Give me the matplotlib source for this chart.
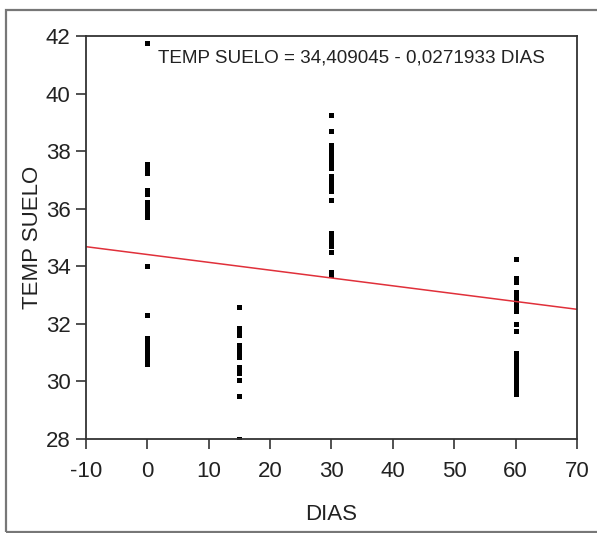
import numpy as np
import matplotlib.pyplot as plt
from matplotlib.patches import Rectangle

plt.rcParams['font.family'] = ['Liberation Sans', 'DejaVu Sans']

# data (DIAS, TEMP SUELO)
temp_d0 = [41.75, 37.55, 37.45, 37.35, 37.25, 36.65, 36.5, 36.25, 36.1, 35.95, 35.8, 35.7,
           34.0, 32.3, 31.5, 31.35, 31.2, 31.05, 30.9, 30.75, 30.6]
temp_d15 = [32.6, 31.85, 31.75, 31.6, 31.25, 31.1, 30.95, 30.85, 30.5, 30.4, 30.3, 30.05, 29.5, 28.0]
temp_d30 = [39.25, 38.7, 38.2, 38.1, 38.0, 37.9, 37.8, 37.7, 37.6, 37.5, 37.4, 37.15, 37.05,
            36.95, 36.85, 36.75, 36.6, 36.3, 35.15, 35.0, 34.85, 34.7, 34.5, 33.8, 33.7]
temp_d60 = [34.25, 33.6, 33.45, 33.1, 33.0, 32.9, 32.8, 32.7, 32.6, 32.45, 32.0, 31.75,
            31.0, 30.9, 30.8, 30.7, 30.6, 30.5, 30.4, 30.3, 30.2, 30.1, 30.0, 29.9, 29.8, 29.7, 29.6, 29.55]
dias = [0] * len(temp_d0) + [15] * len(temp_d15) + [30] * len(temp_d30) + [60] * len(temp_d60)
temp = temp_d0 + temp_d15 + temp_d30 + temp_d60

b0, b1 = 34.409045, -0.0271933
xticks = [-10, 0, 10, 20, 30, 40, 50, 60, 70]
yticks = [28, 30, 32, 34, 36, 38, 40, 42]

fig = plt.figure(figsize=(5.97, 5.33), dpi=100)
ax = fig.add_axes([0.144, 0.1764, 0.8225, 0.756])

ax.plot(dias, temp, 's', color='black', markersize=3.6, markeredgewidth=0)
xl = np.array([-10, 70])
ax.plot(xl, b0 + b1 * xl, color='#e0303a', lw=1.1)

ax.text(1.7, 41.25, 'TEMP SUELO = 34,409045 - 0,0271933 DIAS', fontsize=13.6, va='center', ha='left',
        color='#222222')

ax.set_xlim(-10, 70)
ax.set_ylim(28, 42)
ax.set_xticks(xticks)
ax.set_yticks(yticks)
ax.set_xticklabels([str(v) for v in xticks])
ax.tick_params(direction='out', length=7, width=1.2, labelsize=16, colors='#333333', labelcolor='#222222')
ax.tick_params(axis='x', pad=9)
ax.tick_params(axis='y', pad=4)
for s in ax.spines.values():
    s.set_color('#333333')
    s.set_linewidth(1.3)
ax.set_xlabel('DIAS', fontsize=16, labelpad=16, color='#222222')
ax.set_ylabel('TEMP SUELO', fontsize=16, labelpad=2, color='#222222')

fig.patches.append(Rectangle((6 / 597, 1.5 / 533), 0.999, 521.5 / 533, transform=fig.transFigure,
                             fill=False, edgecolor='#777777', lw=1.6))

fig.savefig('out.png', dpi=100)
